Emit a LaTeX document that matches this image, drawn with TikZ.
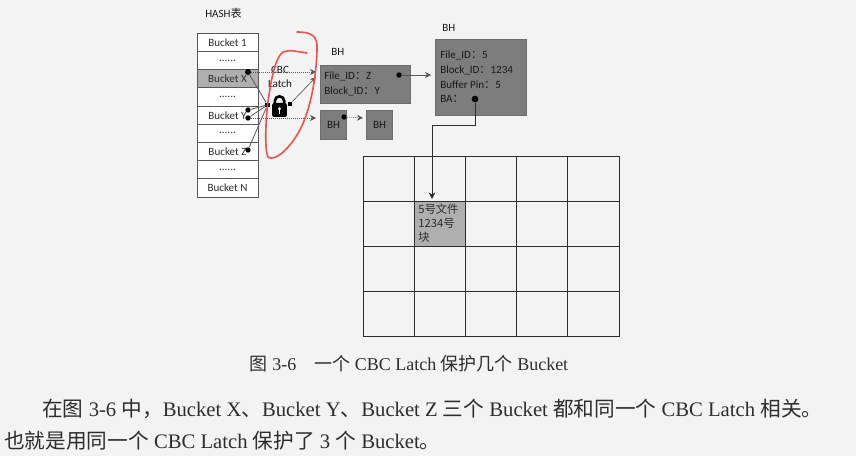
\documentclass[tikz,border=0pt]{standalone}
\usepackage{fontspec}
\setmainfont{Liberation Serif}
\newfontfamily\cjk{Noto Sans CJK SC}
\newfontfamily\lbl{Carlito}
\usetikzlibrary{arrows.meta, positioning, calc}
\definecolor{paper}{RGB}{243,243,243}
\definecolor{ink}{RGB}{45,45,45}
\definecolor{boxgray}{RGB}{125,125,125}
\definecolor{cellgray}{RGB}{175,175,175}
\definecolor{markred}{RGB}{232,84,78}
\newcommand{\rowdots}{......}
\tikzset{
  bucket/.style={draw=ink!80, line width=0.7pt, inner sep=0pt, minimum width=45.75pt, minimum height=13.7pt, font=\lbl\fontsize{8.3}{9}\selectfont, text=ink},
  bhbox/.style={draw=ink!70, fill=boxgray, line width=0.8pt, inner sep=0pt, anchor=north west},
  cell/.style={draw=ink, line width=0.6pt, inner sep=0pt, minimum width=38.4pt, minimum height=33.75pt},
  tag/.style={inner sep=0pt, font=\lbl\fontsize{8.3}{11}\selectfont, text=black!90},
  dotmark/.style={circle, fill=black, inner sep=0pt, minimum size=4pt},
  link/.style={-{Stealth[length=4.5pt,width=4.5pt]}, ink!80, line width=0.5pt},
  dotlink/.style={link, densely dotted},
  bodytext/.style={inner sep=0pt, anchor=west, text=ink, font=\fontsize{15.5}{18}\selectfont}
}
\begin{document}
\begin{tikzpicture}[x=0.75pt, y=-0.75pt]
  \useasboundingbox[fill=paper] (0,0) rectangle (856,456);
  % hash table
  \node[tag, anchor=west] (hash) at (205,13) {HASH{\cjk 表}};
  \foreach \nm/\txt/\shade [count=\i from 0] in {b1/Bucket 1/white, d1/\rowdots/white, bx/Bucket X/cellgray, d2/\rowdots/white, by/Bucket Y/white, d3/\rowdots/white, bz/Bucket Z/white, d4/\rowdots/white, bn/Bucket N/white}
    \node[bucket, fill=\shade] (\nm) at (227.5,42.4+18.2*\i) {\txt};
  % buffer headers
  \node[bhbox, minimum width=67.5pt, minimum height=28.5pt] (bh1) at (320,65) {};
  \node[tag, anchor=west, align=left] (bh1txt) at (324,84) {File\_ID{\cjk ：}Z\\Block\_ID{\cjk ：}Y};
  \node[tag, anchor=west] (bh1lab) at (331,52) {BH};
  \node[bhbox, minimum width=19.5pt, minimum height=21.75pt] (bh2) at (320,110) {};
  \node[tag] at (bh2.center) {BH};
  \node[bhbox, minimum width=19.5pt, minimum height=21.75pt] (bh3) at (366,110) {};
  \node[tag] at (bh3.center) {BH};
  \node[bhbox, minimum width=68.25pt, minimum height=57pt] (bh4) at (435,39) {};
  \node[tag, anchor=west, align=left] (bh4txt) at (440,77) {File\_ID{\cjk ：}5\\Block\_ID{\cjk ：}1234\\Buffer Pin{\cjk ：}5\\BA{\cjk ：}};
  \node[tag, anchor=west] (bh4lab) at (442,28) {BH};
  % data buffer grid
  \foreach \r in {0,1,2,3}
    \foreach \c in {0,1,2,3,4}
      \node[cell] (g\r\c) at (388.6+51.2*\c,178.5+45*\r) {};
  \node[cell, fill=cellgray] (block) at (g11) {};
  \node[inner sep=0pt, anchor=north west, align=left, text=ink, font=\cjk\fontsize{8.5}{10.5}\selectfont] (blocktxt) at (418,204) {5号文件\\1234号\\块};
  % lock
  \coordinate (lock) at (279.5,110);
  \draw[black, line width=2pt] ([xshift=-3.5pt,yshift=4pt]lock) -- ++(0,2.75pt) arc[start angle=180, end angle=0, radius=3.5pt] -- ++(0,-1.5pt);
  \node[fill=black, rounded corners=1.5pt, inner sep=0pt, minimum width=11pt, minimum height=10.5pt] (lockbody) at (lock) {};
  \fill[paper] ([yshift=1pt]lockbody.center) circle (1.2pt);
  \fill[paper] ([xshift=-0.5pt,yshift=-3pt]lockbody.center) rectangle ++(1pt,3.5pt);
  \node[tag, align=center] (cbc) at (280,77) {CBC\\Latch};
  % connector ends
  \node[dotmark, minimum size=4.5pt] (dx) at (248,72) {};
  \node[dotmark] (dy1) at (248,110) {};
  \node[dotmark] (dy2) at (248,118) {};
  \node[dotmark] (dz) at (248,150) {};
  \node[dotmark, rectangle, minimum size=3.5pt] (latchin) at (267.5,105) {};
  \node[dotmark, rectangle, minimum size=3.5pt] (latchout) at (290,104) {};
  \node[dotmark] (dbh1) at (399,75) {};
  \node[dotmark] (dbh2) at (344,117) {};
  \node[dotmark, minimum size=5pt] (dba) at (475,99) {};
  \coordinate (bh1a) at (316,72);
  \coordinate (bh1b) at (316,77);
  \coordinate (bh2a) at (316,118);
  \coordinate (bh3a) at (363,118);
  \coordinate (bh4a) at (431,75);
  \coordinate (bend) at (432,125);
  \coordinate (blockin) at (432,199);
  % connectors
  \draw[dotlink] (dx) -- (bh1a);
  \draw[dotlink] (dy2) -- (bh2a);
  \draw[dotlink] (dbh2) -- (bh3a);
  \draw[link] (dbh1) -- (bh4a);
  \draw[link] (latchout) -- (bh1b);
  \draw[ink!80, line width=0.6pt] (dx) -- (latchin);
  \draw[ink!80, line width=0.6pt] (dy1) -- (latchin);
  \draw[ink!80, line width=0.6pt] (dy2) -- (latchin);
  \draw[ink!80, line width=0.6pt] (dz) -- (latchin);
  \draw[-{Stealth[length=5pt,width=5pt]}, ink, line width=0.7pt] (dba) |- (bend) -- (blockin);
  % red pen mark
  \draw[markred, line width=1.2pt, line cap=round] (297,32) .. controls (312,32) and (318,36) .. (317,50) .. controls (316,85) and (308,118) .. (297,135) .. controls (288,150) and (274,162) .. (268,157) .. controls (264,150) and (266,110) .. (269,95) .. controls (272,75) and (276,57) .. (283,52) .. controls (290,49) and (298,52) .. (307,53);
  % caption and text below
  \node[inner sep=0pt, text=ink, font=\fontsize{13.5}{15}\selectfont] (caption) at (409,364) {{\cjk 图} 3-6\quad{\cjk 一个} CBC Latch {\cjk 保护几个} Bucket};
  \node[bodytext] (line1) at (42,409) {{\cjk 在图} 3-6 {\cjk 中，}Bucket X{\cjk 、}Bucket Y{\cjk 、}Bucket Z {\cjk 三个} Bucket {\cjk 都和同一个} CBC Latch {\cjk 相关。}};
  \node[bodytext] (line2) at (4,441) {{\cjk 也就是用同一个} CBC Latch {\cjk 保护了} 3 {\cjk 个} Bucket{\cjk 。}};
\end{tikzpicture}
\end{document}
